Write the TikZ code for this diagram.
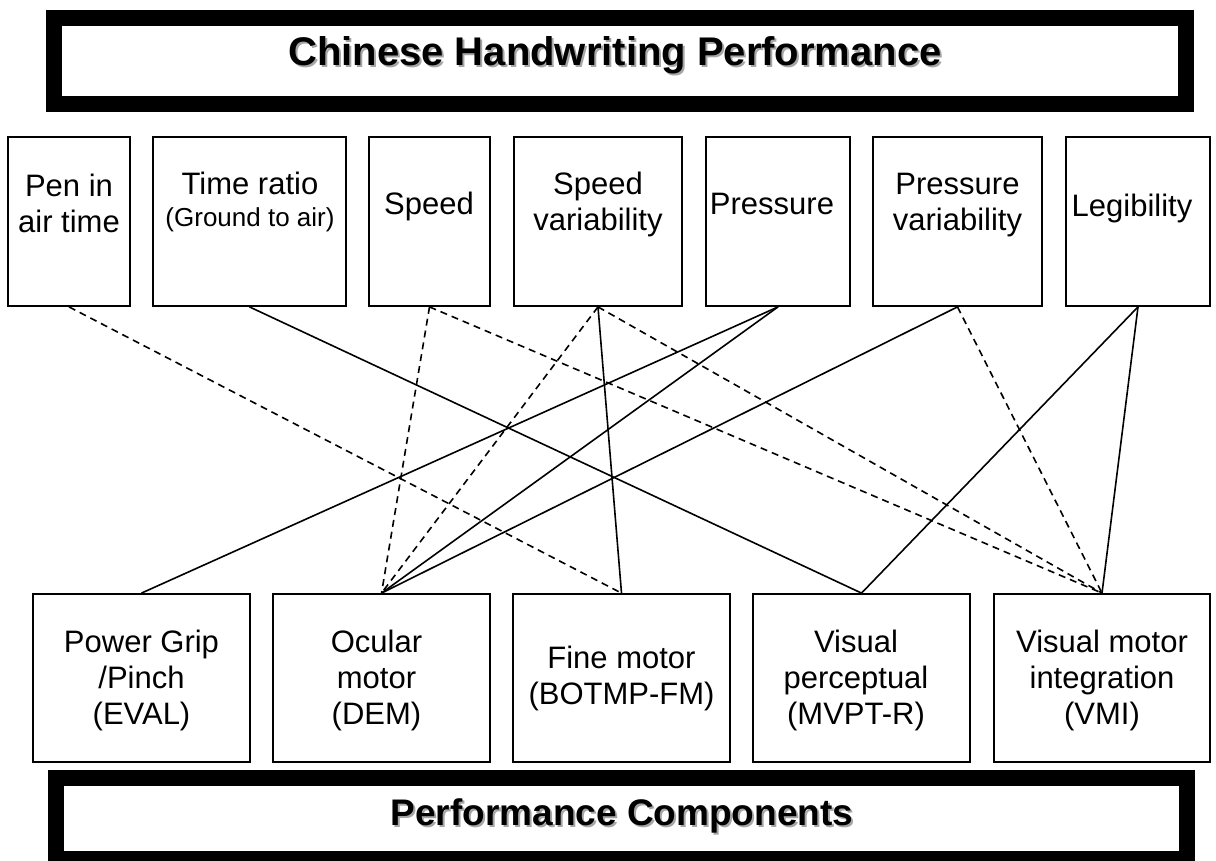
\documentclass[tikz,border=0pt]{standalone}
\usepackage{fontspec}
\setmainfont{Liberation Sans}
\begin{document}
\begin{tikzpicture}[x=1pt,y=-1pt,
  box/.style={draw, line width=1.8pt, inner sep=0pt},
  tbox/.style={box, minimum height=169pt},
  bbox/.style={box, minimum height=168pt, minimum width=217pt},
  banner/.style={draw, line width=16pt, inner sep=0pt},
  lbl/.style={anchor=base, inner sep=0pt, font=\fontsize{31}{36}\selectfont},
  title/.style={anchor=base, inner sep=0pt, font=\bfseries\fontsize{#1}{#1}\selectfont},
  shadow/.style={text=black!35},
  conn/.style={line width=1.6pt},
  dconn/.style={conn, dash pattern=on 7pt off 5pt}]

\useasboundingbox (0,0) rectangle (1216,861);
\fill[white] (0,0) rectangle (1216,861);
\clip (0,0) rectangle (1216,861);

% heading banners
\node[banner, minimum width=1132pt, minimum height=86pt] (topbanner) at (620,61) {};
\node[title=40, shadow] (topshadow) at (617,68) {Chinese Handwriting Performance};
\node[title=40] (toptitle) at (615,66) {Chinese Handwriting Performance};

\node[banner, minimum width=1131pt, minimum height=81pt] (botbanner) at (621.5,818.5) {};
\node[title=37, shadow] (botshadow) at (624,827.5) {Performance Components};
\node[title=37] (bottitle) at (622,825.5) {Performance Components};

% handwriting measures
\node[tbox, minimum width=122pt] (pen)   at (69,221.5) {};
\node[tbox, minimum width=193pt] (time)  at (249.5,221.5) {};
\node[tbox, minimum width=121pt] (speed) at (429.5,221.5) {};
\node[tbox, minimum width=168pt] (svar)  at (598,221.5) {};
\node[tbox, minimum width=144pt] (press) at (778,221.5) {};
\node[tbox, minimum width=169pt] (pvar)  at (957.5,221.5) {};
\node[tbox, minimum width=144pt] (legib) at (1138,221.5) {};

\node[lbl] (penlbl) at (69,197) {\begin{tabular}[t]{@{}c@{}}Pen in\\air time\end{tabular}};
\node[lbl] (timelbl) at (250,195) {\begin{tabular}[t]{@{}c@{}}Time ratio\\[-4pt]{\fontsize{26}{30}\selectfont (Ground to air)}\end{tabular}};
\node[lbl] (speedlbl) at (429,215) {Speed};
\node[lbl] (svarlbl) at (598,195) {\begin{tabular}[t]{@{}c@{}}Speed\\variability\end{tabular}};
\node[lbl] (presslbl) at (772,215) {Pressure};
\node[lbl] (pvarlbl) at (957.5,195) {\begin{tabular}[t]{@{}c@{}}Pressure\\variability\end{tabular}};
\node[lbl] (legiblbl) at (1132,217) {Legibility};

% performance components
\node[bbox] (eval) at (141.5,678) {};
\node[bbox] (dem)  at (381.5,678) {};
\node[bbox] (fm)   at (621.5,678) {};
\node[bbox] (mvpt) at (861.5,678) {};
\node[bbox, minimum width=216pt] (vmi) at (1102,678) {};

\node[lbl] (evallbl) at (141.5,652) {\begin{tabular}[t]{@{}c@{}}Power Grip\\/Pinch\\(EVAL)\end{tabular}};
\node[lbl] (demlbl) at (376.5,652) {\begin{tabular}[t]{@{}c@{}}Ocular\\motor\\(DEM)\end{tabular}};
\node[lbl] (fmlbl) at (621.5,668) {\begin{tabular}[t]{@{}c@{}}Fine motor\\(BOTMP-FM)\end{tabular}};
\node[lbl] (mvptlbl) at (856,652) {\begin{tabular}[t]{@{}c@{}}Visual\\perceptual\\(MVPT-R)\end{tabular}};
\node[lbl] (vmilbl) at (1102,652) {\begin{tabular}[t]{@{}c@{}}Visual motor\\integration\\(VMI)\end{tabular}};

% relations
\draw[dconn] (pen.south) -- (fm.north);
\draw[conn]  (time.south) -- (mvpt.north);
\draw[dconn] (speed.south) -- (dem.north);
\draw[dconn] (speed.south) -- (vmi.north);
\draw[dconn] (svar.south) -- (dem.north);
\draw[conn]  (svar.south) -- (fm.north);
\draw[dconn] (svar.south) -- (vmi.north);
\draw[conn]  (press.south) -- (eval.north);
\draw[conn]  (press.south) -- (dem.north);
\draw[conn]  (pvar.south) -- (dem.north);
\draw[dconn] (pvar.south) -- (vmi.north);
\draw[conn]  (legib.south) -- (mvpt.north);
\draw[conn]  (legib.south) -- (vmi.north);
\end{tikzpicture}
\end{document}
